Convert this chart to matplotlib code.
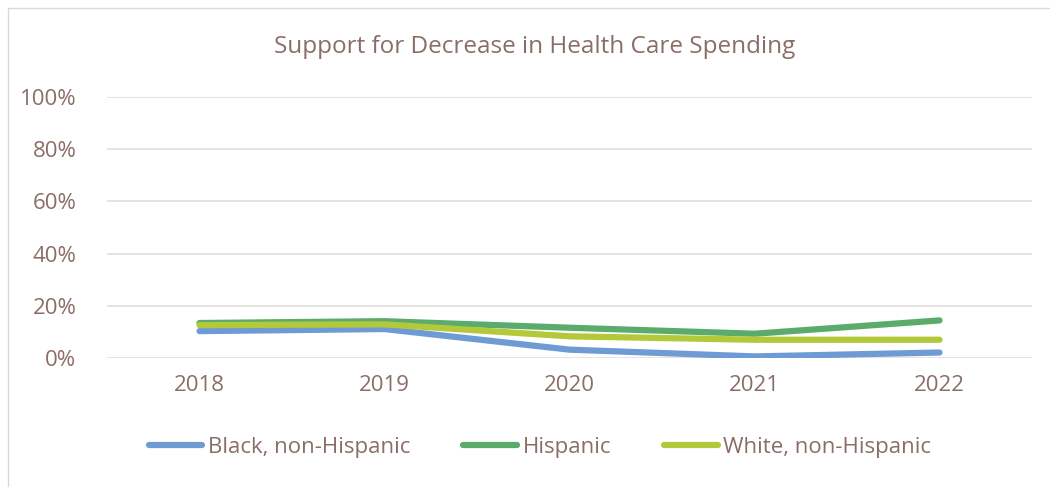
import matplotlib
matplotlib.use("Agg")
import matplotlib.pyplot as plt
from matplotlib.patches import Rectangle
from matplotlib.ticker import PercentFormatter

TEXT = "#8a6e66"; GRID = "#e4dfdd"
plt.rcParams["font.family"] = ["Open Sans", "DejaVu Sans"]

years = ["2018", "2019", "2020", "2021", "2022"]
black = [10.3, 11.1, 3.2, 0.6, 2.1]
hispanic = [13.4, 14.1, 11.6, 9.3, 14.4]
white = [12.6, 12.9, 8.3, 7.0, 7.0]

series = [
    ("Black, non-Hispanic", black, "#6f9bd4"),
    ("Hispanic", hispanic, "#5bab6c"),
    ("White, non-Hispanic", white, "#b3c93a"),
]

fig = plt.figure(figsize=(10.5, 4.87), dpi=100)
# chart frame
fig.patches.append(Rectangle((8 / 1050, -0.05), 1.2, 1 - 8 / 487 + 0.05,
                             transform=fig.transFigure, fill=False,
                             edgecolor="#d9d9d9", lw=1))
ax = fig.add_axes([107 / 1050, 1 - 358 / 487, 925 / 1050, 261 / 487])

x = range(len(years))
for name, vals, col in series:
    ax.plot(x, vals, color=col, lw=4.5, solid_capstyle="round", label=name)

ax.set_xlim(-0.5, len(years) - 0.5)
ax.set_ylim(0, 100)
ax.set_yticks(range(0, 101, 20))
ax.yaxis.set_major_formatter(PercentFormatter(decimals=0))
ax.set_xticks(list(x)); ax.set_xticklabels(years)
ax.grid(axis="y", color=GRID, lw=1.3)
ax.set_axisbelow(True)
for s in ["top", "right", "left", "bottom"]:
    ax.spines[s].set_visible(False)
ax.tick_params(colors=TEXT, labelsize=16, length=0)
ax.tick_params(axis="y", pad=22)
ax.tick_params(axis="x", pad=12)

fig.text(535 / 1050, 1 - 47 / 487, "Support for Decrease in Health Care Spending",
         ha="center", va="center", color=TEXT, fontsize=17.5)
fig.legend(loc="center", bbox_to_anchor=(540 / 1050, 1 - 447 / 487), ncol=3,
           frameon=False, fontsize=16, labelcolor=TEXT, handlelength=2.4,
           handletextpad=0.25, columnspacing=2.4)

fig.savefig("out.png", dpi=100, facecolor="white")
